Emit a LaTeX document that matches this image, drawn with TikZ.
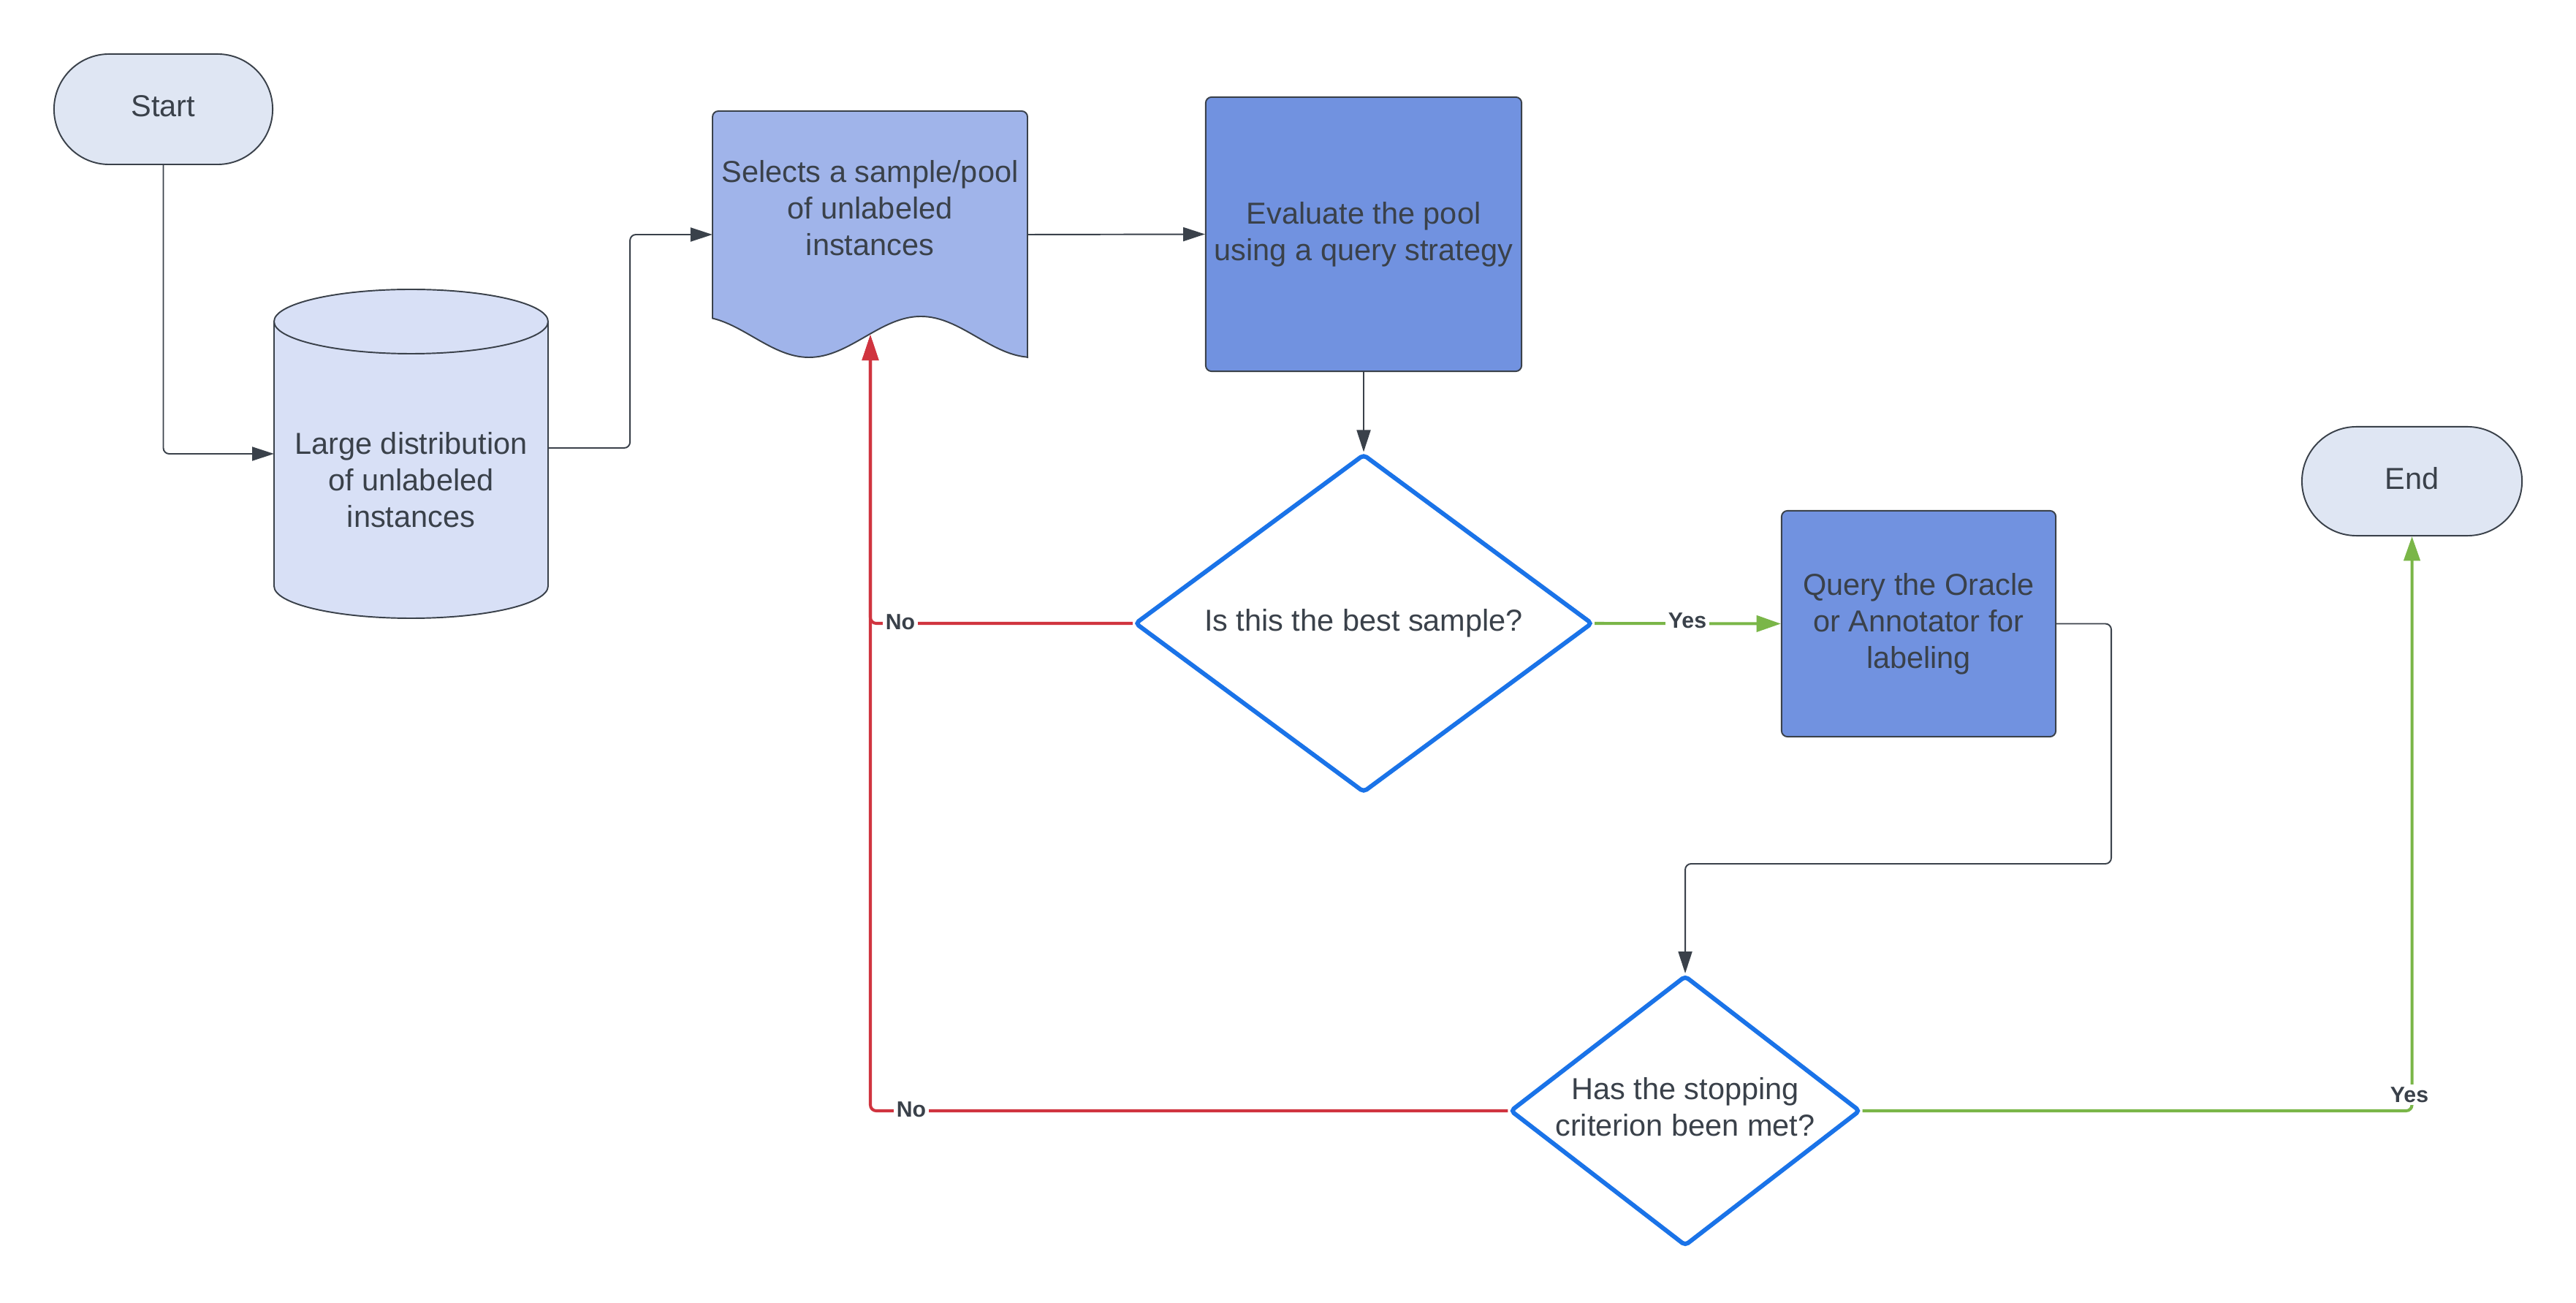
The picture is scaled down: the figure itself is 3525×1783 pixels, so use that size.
\documentclass[tikz,border=0pt]{standalone}
\usepackage{fontspec}
\setmainfont{Liberation Sans}
\usetikzlibrary{shapes.geometric,shapes.misc,arrows.meta}
\definecolor{ink}{HTML}{3A414A}
\definecolor{termfill}{HTML}{DFE6F3}
\definecolor{cylfill}{HTML}{D8E0F6}
\definecolor{docfill}{HTML}{A0B4EA}
\definecolor{procfill}{HTML}{7192E0}
\definecolor{decblue}{HTML}{1A73E8}
\definecolor{nored}{HTML}{D0343F}
\definecolor{yesgreen}{HTML}{7AB648}
\tikzset{
  txt/.style={font=\fontsize{11.8}{14.2}\selectfont, text=ink, align=center, inner sep=0pt},
  term/.style={rounded rectangle, draw=ink, line width=0.55pt, fill=termfill, inner sep=0pt,
    font=\fontsize{11.8}{14.2}\selectfont, text=ink, text depth=0.25em},
  proc/.style={rectangle, rounded corners=0.08cm, draw=ink, line width=0.55pt, fill=procfill,
    inner sep=0pt, font=\fontsize{11.8}{14.2}\selectfont, text=ink, align=center},
  dec/.style={diamond, draw=decblue, line width=1.7pt, rounded corners=0.05cm, fill=white, inner sep=0pt},
  anchorbox/.style={rectangle, inner sep=0pt, outer sep=0pt},
  conn/.style={draw=ink, line width=0.55pt, rounded corners=0.08cm,
    -{Triangle[length=8.5pt,width=5.4pt]}},
  nol/.style={draw=nored, line width=1.15pt, rounded corners=0.08cm,
    -{Triangle[length=10pt,width=6.3pt]}},
  yesl/.style={draw=yesgreen, line width=1.15pt, rounded corners=0.08cm,
    -{Triangle[length=9.5pt,width=6.3pt]}},
  lbl/.style={font=\bfseries\fontsize{8.6}{10}\selectfont, text=ink, fill=white, inner sep=1pt},
}
\begin{document}
\begin{tikzpicture}[x=0.01cm,y=-0.01cm]
\useasboundingbox[fill=white] (0,0) rectangle (3525,1783);

% Start / End
\node[term, minimum width=2.99cm, minimum height=1.51cm] (start) at (223.5,149.5) {Start};
\node[term, minimum width=3.01cm, minimum height=1.49cm] (end) at (3300.5,658.5) {End};

% Cylinder
\path[fill=cylfill, draw=ink, line width=0.55pt]
  (375,440) .. controls (375,415.7) and (458.9,396) .. (562.5,396)
  .. controls (666.1,396) and (750,415.7) .. (750,440)
  -- (750,802)
  .. controls (750,826.3) and (666.1,846) .. (562.5,846)
  .. controls (458.9,846) and (375,826.3) .. (375,802) -- cycle;
\draw[ink, line width=0.55pt]
  (750,440) .. controls (750,464.3) and (666.1,484) .. (562.5,484)
  .. controls (458.9,484) and (375,464.3) .. (375,440);
\node[anchorbox, minimum width=3.75cm, minimum height=4.5cm] (db) at (562.5,621) {};
\node[txt] (dbtext) at (562.5,657) {Large distribution\\of unlabeled\\instances};

% Document shape
\path[fill=docfill, draw=ink, line width=0.55pt]
  (975,433) [rounded corners=0.08cm] -- (975,152) -- (1406,152) [sharp corners] -- (1406,490)
  -- plot[domain=351.8:-155.3, samples=80, smooth] ({1107+0.85*\x}, {461+28*cos(\x)}) -- cycle;
\node[anchorbox, minimum width=4.31cm, minimum height=3.38cm] (doc) at (1190.5,321) {};
\node[txt] (doctext) at (1190.5,285) {Selects a sample/pool\\of unlabeled\\instances};
\coordinate (docin) at (1191,458);

% Process boxes
\node[proc, minimum width=4.32cm, minimum height=3.75cm] (eval) at (1866,320.5) {Evaluate the pool\\using a query strategy};
\node[proc, minimum width=3.75cm, minimum height=3.09cm] (query) at (2625.5,853.5) {Query the Oracle\\or Annotator for\\labeling};

% Decisions
\node[dec, minimum width=6.26cm, minimum height=4.63cm] (d1) at (1866,853) {};
\node[txt] (d1text) at (1866,853) {Is this the best sample?};
\node[dec, minimum width=4.79cm, minimum height=3.70cm] (d2) at (2306,1520) {};
\node[txt] (d2text) at (2306,1515) {Has the stopping\\criterion been met?};

% Connectors
\coordinate (qbend) at (2889,1182);
\draw[conn] (start.south) |- (db.west);
\draw[conn] ([yshift=0.08cm]db.east) -- ++(112,0) |- (doc.west);
\draw[conn] (doc.east) -- (eval.west);
\draw[conn] (eval.south) -- (d1.north);
\draw[conn] (query.east) -| (qbend) -| (d2.north);
\draw[yesl] (d1.east) -- (query.west);
\draw[nol] (d1.west) -| (docin);
\draw[nol] (d2.west) -| (docin);
\draw[yesl] (d2.east) -| (end.south);

% Labels
\node[lbl] (yes1) at (2309,849) {Yes};
\node[lbl] (no1) at (1232,851) {No};
\node[lbl] (no2) at (1247,1518) {No};
\node[lbl] (yes2) at (3297,1498) {Yes};
\end{tikzpicture}
\end{document}
